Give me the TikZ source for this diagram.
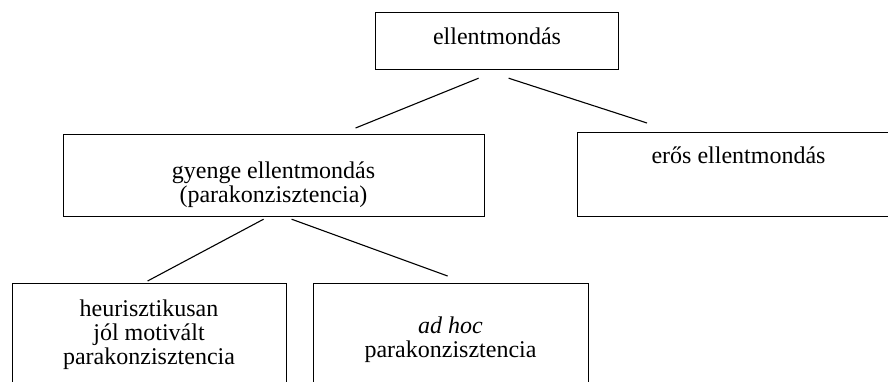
\documentclass[tikz,border=0pt]{standalone}
\usepackage{fontspec}
\setmainfont{Liberation Serif}
\usepackage{tikz}
\usetikzlibrary{positioning, calc}

\begin{document}
\begin{tikzpicture}[x=1pt, y=-1pt]
    \path[use as bounding box, clip] (0,0) rectangle (888,382);

    \begin{scope}[every node/.style={draw, line width=1.2pt, inner sep=0pt, anchor=north west}]
        \node (root)   [minimum width=243pt, minimum height=57pt] at (375,12) {};
        \node (weak)   [minimum width=421pt, minimum height=82pt] at (63,134) {};
        \node (strong) [minimum width=323pt, minimum height=84pt] at (577,132) {};
        \node (heur)   [minimum width=274pt, minimum height=130pt] at (12,283) {};
        \node (adhoc)  [minimum width=275pt, minimum height=130pt] at (313,283) {};
    \end{scope}

    % base = baseline of the last line
    \begin{scope}[every node/.style={inner sep=0pt, anchor=base, align=center, font=\fontsize{24}{24}\selectfont}]
        \node (rootT)   at (497,45)    {ellentmondás};
        \node (weakT)   at (273.5,202) {gyenge ellentmondás\\(parakonzisztencia)};
        \node (strongT) at (738.5,164) {erős ellentmondás};
        \node (heurT)   at (149,364)   {heurisztikusan\\jól motivált\\parakonzisztencia};
        \node (adhocT)  at (450.5,357) {\textit{ad hoc}\\parakonzisztencia};
    \end{scope}

    \begin{scope}[every edge/.style={draw=black, line width=1.1pt}]
        \path ($(root.south)+(-18.5,8)$) edge ($(weak.north)+(81.5,-6)$);
        \path ($(root.south)+(11.5,8)$)  edge ($(strong.north west)+(70,-9)$);
        \path ($(weak.south)+(-10.5,2)$) edge ($(heur.north)+(-2,-2)$);
        \path ($(weak.south)+(17.5,2)$)  edge ($(adhoc.north)+(-3.5,-7)$);
    \end{scope}
\end{tikzpicture}
\end{document}
